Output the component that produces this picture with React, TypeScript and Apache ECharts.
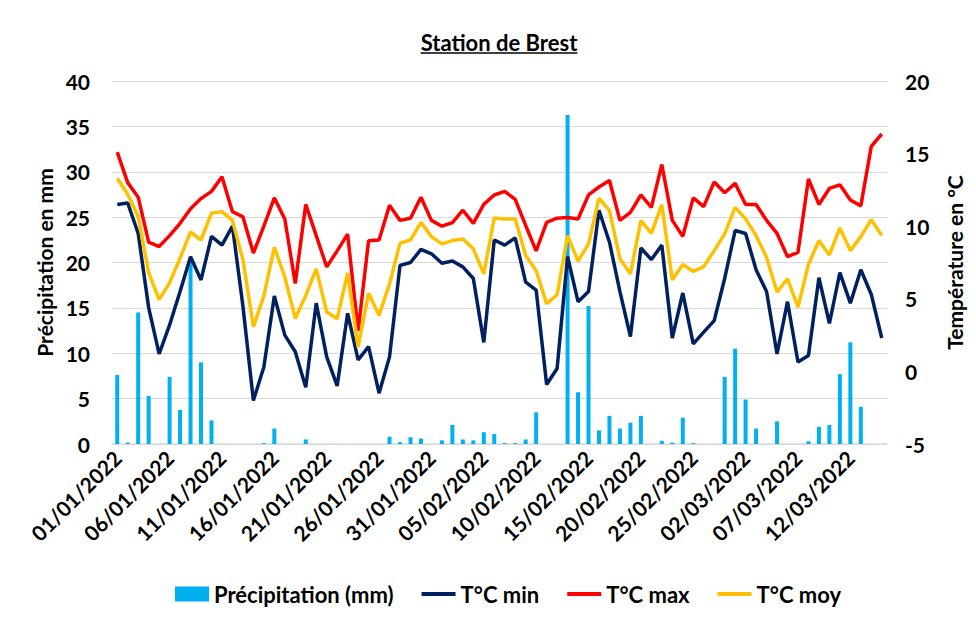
import React, { useEffect, useRef } from "react";
import * as echarts from "echarts";

const FONT = "Lato";

// Categories: daily dates from 01/01/2022 to 15/03/2022
const monthDays = (month: string, count: number): string[] => {
  const out: string[] = [];
  for (let d = 1; d <= count; d++) out.push(`${String(d).padStart(2, "0")}/${month}/2022`);
  return out;
};
const dates: string[] = [...monthDays("01", 31), ...monthDays("02", 28), ...monthDays("03", 15)];

const precipitation: number[] = [
  7.6, 0.15, 14.5, 5.3, 0, 7.4, 3.75, 20.0, 9.0, 2.6,
  0, 0, 0, 0, 0.1, 1.7, 0, 0, 0.5, 0,
  0, 0, 0, 0, 0, 0, 0.8, 0.2, 0.75, 0.6,
  0, 0.4, 2.1, 0.5, 0.4, 1.3, 1.1, 0.1, 0.1, 0.5,
  3.5, 0, 0, 36.25, 5.7, 15.2, 1.5, 3.1, 1.7, 2.35,
  3.1, 0, 0.35, 0.15, 2.9, 0.1, 0, 0, 7.4, 10.5,
  4.9, 1.7, 0, 2.5, 0, 0, 0.3, 1.9, 2.1, 7.7,
  11.2, 4.1, 0, 0,
];

const tMin: number[] = [
  11.5, 11.6, 9.5, 4.4, 1.2, 3.2, 5.5, 7.9, 6.3, 9.3,
  8.7, 10.0, 4.5, -2.0, 0.3, 5.2, 2.5, 1.35, -1.1, 4.7,
  1.0, -1.0, 4.0, 0.8, 1.7, -1.5, 1.0, 7.3, 7.5, 8.4,
  8.1, 7.45, 7.6, 7.2, 6.4, 2.0, 9.05, 8.7, 9.2, 6.15,
  5.6, -0.9, 0.2, 7.9, 4.8, 5.5, 11.1, 8.9, 5.5, 2.4,
  8.5, 7.7, 8.7, 2.3, 5.4, 1.9, 2.7, 3.5, 6.4, 9.7,
  9.5, 7.0, 5.5, 1.2, 4.8, 0.65, 1.1, 6.45, 3.3, 6.8,
  4.7, 7.0, 5.3, 2.3,
];

const tMax: number[] = [
  15.1, 13.0, 12.0, 8.9, 8.6, 9.35, 10.2, 11.2, 11.9, 12.4,
  13.4, 11.0, 10.65, 8.15, 10.0, 11.95, 10.5, 6.05, 11.5, 9.35,
  7.2, 8.3, 9.45, 2.8, 9.0, 9.05, 11.45, 10.4, 10.55, 12.0,
  10.4, 10.0, 10.25, 11.1, 10.2, 11.5, 12.15, 12.4, 11.85, 10.05,
  8.3, 10.27, 10.55, 10.6, 10.5, 12.15, 12.7, 13.15, 10.4, 10.95,
  12.15, 11.3, 14.25, 10.4, 9.3, 11.95, 11.35, 13.05, 12.3, 12.95,
  11.5, 11.5, 10.4, 9.5, 7.9, 8.2, 13.25, 11.5, 12.6, 12.85,
  11.8, 11.4, 15.5, 16.35,
];

const tMoy: number[] = [
  13.3, 12.2, 10.65, 6.8, 4.95, 6.1, 7.8, 9.6, 9.05, 10.9,
  11.0, 10.4, 7.7, 3.07, 5.2, 8.55, 6.5, 3.65, 5.23, 7.06,
  4.09, 3.63, 6.77, 1.68, 5.39, 3.86, 6.03, 8.83, 9.05, 10.27,
  9.28, 8.78, 9.01, 9.12, 8.44, 6.72, 10.57, 10.5, 10.5, 7.98,
  6.95, 4.66, 5.28, 9.35, 7.59, 8.78, 11.94, 11.07, 7.75, 6.72,
  10.38, 9.51, 11.48, 6.31, 7.36, 6.88, 7.22, 8.32, 9.47, 11.3,
  10.5, 9.35, 7.86, 5.46, 6.38, 4.43, 7.36, 9.01, 8.02, 9.88,
  8.32, 9.28, 10.45, 9.35,
];

const seriesNames = ["Précipitation (mm)", "T°C min", "T°C max", "T°C moy"];
const TITLE = "Station de Brest";
const LINE_ICON = "path://M0,0 L36,0 L36,4 L0,4 Z";

export default function App() {
  const ref = useRef<HTMLDivElement>(null);

  useEffect(() => {
    if (!ref.current) return;
    const chart = echarts.init(ref.current, undefined, { renderer: "svg" });

    const titleFont = `bold 22px ${FONT}`;
    let titleW = 158;
    try {
      const ctx = document.createElement("canvas").getContext("2d");
      if (ctx) {
        ctx.font = titleFont;
        titleW = ctx.measureText(TITLE).width;
      }
    } catch (e) {}
    const titleCx = 499;

    const bold = { color: "#000", fontWeight: "bold" as const, fontFamily: FONT };

    chart.setOption({
      animation: false,
      textStyle: { fontFamily: FONT },
      graphic: [
        {
          type: "text",
          x: titleCx,
          y: 42,
          style: {
            text: TITLE,
            font: titleFont,
            fill: "#000",
            align: "center",
            verticalAlign: "middle",
          },
        },
        {
          type: "line",
          shape: { x1: titleCx - titleW / 2, y1: 53, x2: titleCx + titleW / 2, y2: 53 },
          style: { stroke: "#000", lineWidth: 1.5 },
        },
      ],
      grid: { left: 112, right: 89, top: 81, bottom: 175 },
      legend: {
        left: 170,
        top: 578,
        itemWidth: 34,
        itemHeight: 15,
        itemGap: 28,
        textStyle: { ...bold, fontSize: 22 },
        data: [
          { name: seriesNames[0], icon: "rect" },
          { name: seriesNames[1], icon: LINE_ICON },
          { name: seriesNames[2], icon: LINE_ICON },
          { name: seriesNames[3], icon: LINE_ICON },
        ],
      },
      xAxis: {
        type: "category",
        data: dates,
        boundaryGap: true,
        axisLine: { show: true, lineStyle: { color: "#d9d9d9", width: 1.5 } },
        axisTick: { show: false },
        axisLabel: { ...bold, interval: 4, rotate: 45, margin: 10, fontSize: 21 },
        splitLine: { show: false },
      },
      yAxis: [
        {
          type: "value",
          min: 0,
          max: 40,
          interval: 5,
          name: "Précipitation en mm",
          nameLocation: "middle",
          nameRotate: 90,
          nameGap: 56,
          nameTextStyle: { ...bold, fontSize: 21 },
          axisLine: { show: false },
          axisTick: { show: false },
          axisLabel: { ...bold, fontSize: 21, margin: 22 },
          splitLine: { show: true, lineStyle: { color: "#d9d9d9", width: 1.2 } },
        },
        {
          type: "value",
          min: -5,
          max: 20,
          interval: 5,
          name: "Température en °C",
          nameLocation: "middle",
          nameRotate: 90,
          nameGap: 57,
          nameTextStyle: { ...bold, fontSize: 21 },
          axisLine: { show: false },
          axisTick: { show: false },
          axisLabel: { ...bold, fontSize: 21, margin: 18 },
          splitLine: { show: false },
        },
      ],
      series: [
        {
          name: seriesNames[0],
          type: "bar",
          yAxisIndex: 0,
          data: precipitation,
          barWidth: 4,
          itemStyle: { color: "#00b0f0" },
        },
        {
          name: seriesNames[1],
          type: "line",
          yAxisIndex: 1,
          data: tMin,
          symbol: "none",
          lineStyle: { color: "#002060", width: 3.5 },
          itemStyle: { color: "#002060" },
        },
        {
          name: seriesNames[2],
          type: "line",
          yAxisIndex: 1,
          data: tMax,
          symbol: "none",
          lineStyle: { color: "#ff0000", width: 3.5 },
          itemStyle: { color: "#ff0000" },
        },
        {
          name: seriesNames[3],
          type: "line",
          yAxisIndex: 1,
          data: tMoy,
          symbol: "none",
          lineStyle: { color: "#ffc000", width: 3.5 },
          itemStyle: { color: "#ffc000" },
        },
      ],
    });

    return () => chart.dispose();
  }, []);

  return (
    <div
      ref={ref}
      style={{ position: "fixed", left: 0, top: 0, width: 976, height: 619, background: "#fff" }}
    />
  );
}
